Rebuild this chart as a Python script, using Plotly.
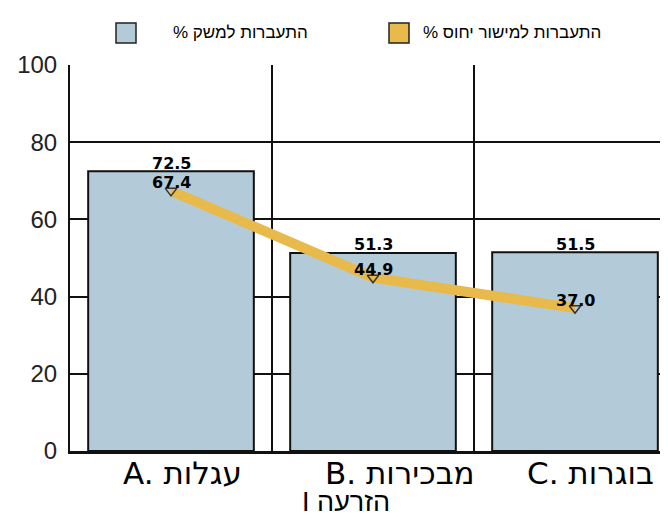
import plotly.graph_objects as go

# ---- data ----
categories = ["A. עגלות", "B. מבכירות", "C. בוגרות"]
farm_rate = [72.5, 51.3, 51.5]          # % התעברות למשק
reference_rate = [67.4, 44.9, 37.0]     # % התעברות למישור יחוס
y_ticks = [0, 20, 40, 60, 80, 100]
series_names = ["% התעברות למשק", "% התעברות למישור יחוס"]
x_title = "I הזרעה"

# ---- styles ----
BAR_COLOR = "#B3CBD9"
LINE_COLOR = "#E8BA4C"
INK = "#111111"
W, H = 668, 518
ML, MR, MT, MB = 62, 0, 57, 75


def px_x(p):
    return (p - ML) / (W - ML - MR)


def px_y(p):
    return (H - MB - p) / (H - MT - MB)


fig = go.Figure()
fig.add_trace(go.Bar(
    x=categories, y=farm_rate, name=series_names[0],
    marker=dict(color=BAR_COLOR, line=dict(color=INK, width=2)),
    width=0.82, showlegend=False,
))
fig.add_trace(go.Scatter(
    x=categories, y=reference_rate, name=series_names[1],
    mode="lines+markers",
    line=dict(color=LINE_COLOR, width=10),
    marker=dict(symbol="triangle-down-open", size=10, color="#333333",
                line=dict(width=1.5, color="#333333")),
    showlegend=False,
))

annotations = []
value_font = dict(family="DejaVu Sans", size=16, color="#000000")
for c, v in zip(categories, farm_rate):
    annotations.append(dict(x=c, y=v, xref="x", yref="y", text=f"<b>{v:.1f}</b>",
                            showarrow=False, yshift=8, font=value_font))
for c, v in zip(categories, reference_rate):
    annotations.append(dict(x=c, y=v, xref="x", yref="y", text=f"<b>{v:.1f}</b>",
                            showarrow=False, yshift=8, font=value_font))

# category labels (left aligned inside each band)
for c in categories:
    annotations.append(dict(x=c, y=0, xref="x", yref="paper", text=c,
                            showarrow=False, xanchor="left", yanchor="top",
                            xshift=-50, yshift=-2,
                            font=dict(family="DejaVu Sans", size=31, color="#000000")))

# axis title
annotations.append(dict(x=px_x(338), y=px_y(494), xref="paper", yref="paper",
                        text=x_title, showarrow=False, xanchor="center", yanchor="middle",
                        font=dict(family="Liberation Sans", size=27, color="#000000")))

# legend
legend_colors = [BAR_COLOR, LINE_COLOR]
legend_box_left = [108, 381]
legend_text_left = [163, 413]
shapes = []
for name, col, bx, tx in zip(series_names, legend_colors, legend_box_left, legend_text_left):
    shapes.append(dict(type="rect", xref="paper", yref="paper",
                       x0=px_x(bx), x1=px_x(bx + 20), y0=px_y(35), y1=px_y(15),
                       fillcolor=col, line=dict(color="#222222", width=1.5)))
    annotations.append(dict(x=px_x(tx), y=px_y(25), xref="paper", yref="paper",
                            text=name, showarrow=False, xanchor="left", yanchor="middle",
                            font=dict(family="Liberation Sans", size=17, color="#000000")))

fig.update_layout(
    width=W, height=H,
    margin=dict(l=ML, r=MR, t=MT, b=MB),
    paper_bgcolor="white", plot_bgcolor="white",
    annotations=annotations, shapes=shapes,
    showlegend=False,
)
fig.update_xaxes(
    type="category", range=[-0.5, 2.5],
    showgrid=True, tickson="boundaries", gridcolor=INK, gridwidth=1.5,
    showline=True, linecolor=INK, linewidth=3,
    ticks="", showticklabels=False, zeroline=False,
)
fig.update_yaxes(
    range=[0, 100], tickvals=y_ticks, ticktext=[str(t) for t in y_ticks],
    showgrid=True, gridcolor=INK, gridwidth=1.5,
    showline=True, linecolor=INK, linewidth=2,
    ticks="", zeroline=False, ticklabelstandoff=6,
    tickfont=dict(family="Liberation Sans", size=24, color="#222222"),
)

fig.write_html("out.html")
